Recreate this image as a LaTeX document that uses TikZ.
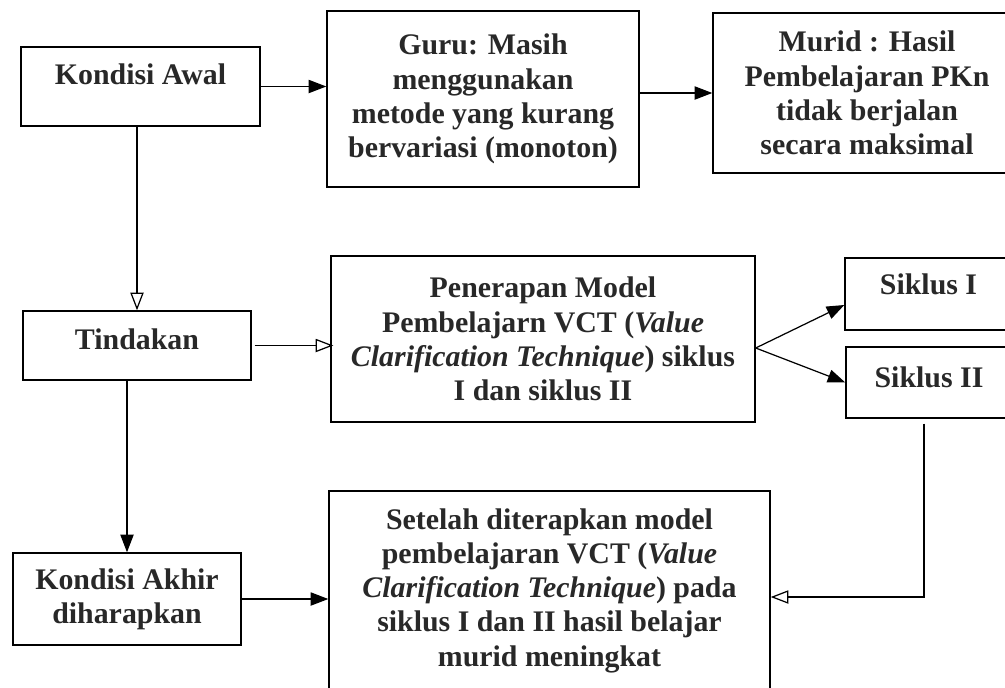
\documentclass[tikz,border=0pt]{standalone}
\usepackage{fontspec}
\setmainfont{Liberation Serif}
\usetikzlibrary{arrows.meta}
\definecolor{tinta}{RGB}{40, 40, 40}
\tikzset{
  kotak/.style     = {draw, line width=0.8pt, align=center, inner sep=2pt, text=tinta,
                      font=\bfseries\fontsize{17}{19.5}\selectfont},
  panah/.style     = {line width=0.7pt, -{Triangle[length=10pt, width=7.5pt]}},
  panahbuka/.style = {line width=0.7pt, -{Triangle[open, length=10pt, width=7.5pt]}},
}

\begin{document}
\begin{tikzpicture}
            \useasboundingbox (0,0) rectangle (20.1,-13.74);
            \clip             (0,0) rectangle (20.1,-13.74);
            % kotak-kotak
            \node[kotak, minimum width=4.78cm, minimum height=1.58cm, text depth=0.48cm] (awal)     at ( 2.81, -1.73) {Kondisi Awal};
            \node[kotak, minimum width=6.24cm, minimum height=3.52cm]                    (guru)     at ( 9.66, -1.98) {Guru: Masih\\ menggunakan\\ metode yang kurang\\ bervariasi (monoton)};
            \node[kotak, minimum width=6.16cm, minimum height=3.20cm]                    (murid)    at (17.34, -1.86) {Murid : Hasil\\ Pembelajaran PKn\\ tidak berjalan\\ secara maksimal};
            \node[kotak, minimum width=4.56cm, minimum height=1.38cm, text depth=0.26cm] (tindakan) at ( 2.74, -6.91) {Tindakan};
            \node[kotak, minimum width=8.48cm, minimum height=3.32cm]                    (vct)      at (10.86, -6.78) {Penerapan Model\\ Pembelajarn VCT (\textit{Value}\\ \textit{Clarification Technique}) siklus\\ I dan siklus II};
            \node[kotak, minimum width=3.34cm, minimum height=1.44cm, text depth=0.40cm] (siklusa)  at (18.57, -5.88) {Siklus I};
            \node[kotak, minimum width=3.32cm, minimum height=1.42cm, text depth=0.22cm] (siklusb)  at (18.58, -7.65) {Siklus II};
            \node[kotak, minimum width=4.56cm, minimum height=1.84cm]                    (akhir)    at ( 2.54,-11.98) {Kondisi Akhir\\ diharapkan};
            \node[kotak, minimum width=8.82cm, minimum height=3.98cm]                    (setelah)  at (10.99,-11.81) {Setelah diterapkan model\\ pembelajaran VCT (\textit{Value}\\ \textit{Clarification Technique}) pada\\ siklus I dan II hasil belajar\\ murid meningkat};
            % panah
            \coordinate (cabang) at ([yshift=-0.18cm]vct.east);
            \draw[panah]     (awal.east)                     -- (awal.east -| guru.west);
            \draw[panah]     ([yshift=0.12cm]guru.east)      -- ([yshift=0.12cm]guru.east -| murid.west);
            \draw[panahbuka] (awal.south -| tindakan.north)  -- (tindakan.north);
            \draw[panahbuka] ([xshift=0.06cm]tindakan.east)  -- ([xshift=0.06cm]tindakan.east -| vct.west);
            \draw[panah]     (cabang)                        -- ([yshift=-0.22cm]siklusa.west);
            \draw[panah]     (cabang)                        -- (siklusb.west);
            \draw[panah]     (tindakan.south -| akhir.north) -- (akhir.north);
            \draw[panah]     (akhir.east)                    -- (akhir.east -| setelah.west);
            \draw[panahbuka] ([xshift=-0.1cm, yshift=-0.1cm]siklusb.south) |- ([yshift=-0.13cm]setelah.east);
        \end{tikzpicture}
\end{document}
